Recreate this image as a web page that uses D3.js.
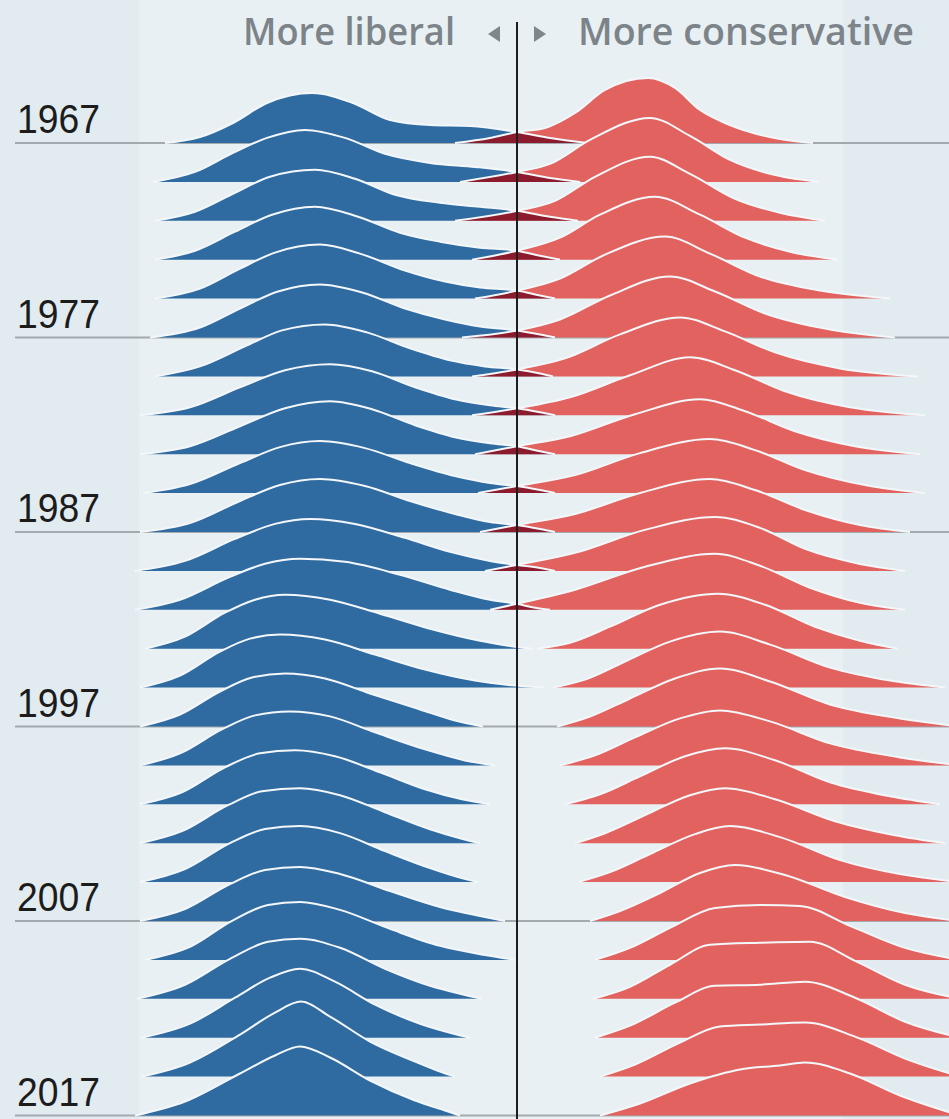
<!DOCTYPE html>
<html><head><meta charset="utf-8">
<script src="https://cdn.jsdelivr.net/npm/d3@7"></script>
<style>html,body{margin:0;padding:0;background:#e2ebf0;} svg{display:block}</style>
</head><body><svg id="c" width="949" height="1119"></svg>
<script>
const years = [1967,1969,1971,1973,1975,1977,1979,1981,1983,1985,1987,1989,1991,1993,1995,1997,1999,2001,2003,2005,2007,2009,2011,2013,2015,2017];
const labelYears = [1967,1977,1987,1997,2007,2017];
const leftLabel = "More liberal";
const rightLabel = "More conservative";

// Democrat density curves: [ideology score, density]
const demCurves = [
 [[-0.704,0],[-0.634,0.3],[-0.568,1.0],[-0.5,2.0],[-0.41,2.5],[-0.328,2.0],[-0.254,1.15],[-0.174,0.9],[-0.094,0.85],[0,0.55],[0.066,0.25],[0.14,0]],
 [[-0.728,0],[-0.644,0.5],[-0.568,1.45],[-0.5,2.2],[-0.424,2.6],[-0.344,2.2],[-0.264,1.4],[-0.174,0.95],[-0.084,0.75],[0,0.5],[0.066,0.2],[0.126,0]],
 [[-0.724,0],[-0.644,0.45],[-0.564,1.4],[-0.494,2.2],[-0.404,2.55],[-0.324,2.1],[-0.244,1.3],[-0.154,0.9],[-0.074,0.7],[0,0.5],[0.066,0.2],[0.122,0]],
 [[-0.724,0],[-0.644,0.45],[-0.564,1.4],[-0.49,2.25],[-0.404,2.65],[-0.318,2.15],[-0.234,1.35],[-0.154,0.9],[-0.074,0.6],[0,0.45],[0.046,0.2],[0.086,0]],
 [[-0.724,0],[-0.634,0.5],[-0.554,1.5],[-0.484,2.3],[-0.394,2.7],[-0.314,2.25],[-0.224,1.4],[-0.144,0.85],[-0.074,0.55],[0,0.4],[0.046,0.15],[0.076,0]],
 [[-0.734,0],[-0.634,0.5],[-0.554,1.45],[-0.478,2.3],[-0.394,2.65],[-0.31,2.25],[-0.224,1.45],[-0.144,0.9],[-0.074,0.55],[0,0.35],[0.046,0.15],[0.076,0]],
 [[-0.724,0],[-0.634,0.5],[-0.544,1.5],[-0.47,2.3],[-0.384,2.6],[-0.3,2.2],[-0.214,1.4],[-0.134,0.8],[-0.064,0.5],[0,0.35],[0.046,0.15],[0.072,0]],
 [[-0.754,0],[-0.654,0.4],[-0.554,1.4],[-0.464,2.25],[-0.374,2.55],[-0.29,2.2],[-0.204,1.4],[-0.124,0.8],[-0.054,0.5],[0,0.35],[0.046,0.15],[0.076,0]],
 [[-0.754,0],[-0.654,0.4],[-0.554,1.4],[-0.464,2.3],[-0.374,2.65],[-0.29,2.25],[-0.204,1.45],[-0.124,0.85],[-0.054,0.55],[0,0.4],[0.046,0.15],[0.076,0]],
 [[-0.748,0],[-0.654,0.45],[-0.554,1.5],[-0.474,2.3],[-0.394,2.6],[-0.304,2.25],[-0.214,1.5],[-0.124,0.85],[-0.054,0.5],[0,0.35],[0.046,0.15],[0.076,0]],
 [[-0.754,0],[-0.654,0.45],[-0.554,1.55],[-0.474,2.35],[-0.394,2.65],[-0.304,2.3],[-0.214,1.55],[-0.124,0.9],[-0.054,0.5],[0,0.35],[0.046,0.15],[0.076,0]],
 [[-0.764,0],[-0.664,0.5],[-0.564,1.6],[-0.484,2.35],[-0.414,2.6],[-0.324,2.35],[-0.224,1.65],[-0.134,0.95],[-0.054,0.5],[0,0.3],[0.046,0.15],[0.076,0]],
 [[-0.764,0],[-0.674,0.5],[-0.574,1.65],[-0.504,2.3],[-0.434,2.55],[-0.344,2.4],[-0.234,1.75],[-0.134,1.0],[-0.054,0.5],[0,0.3],[0.036,0.1],[0.066,0]],
 [[-0.744,0],[-0.664,0.6],[-0.584,1.8],[-0.524,2.45],[-0.464,2.7],[-0.374,2.45],[-0.274,1.75],[-0.174,1.0],[-0.074,0.4],[-0.004,0.1],[0.032,0]],
 [[-0.754,0],[-0.674,0.6],[-0.594,1.8],[-0.534,2.45],[-0.474,2.65],[-0.384,2.4],[-0.284,1.65],[-0.184,0.9],[-0.084,0.35],[-0.004,0.1],[0.056,0]],
 [[-0.754,0],[-0.674,0.6],[-0.594,1.75],[-0.53,2.45],[-0.464,2.65],[-0.384,2.4],[-0.294,1.65],[-0.194,0.85],[-0.124,0.3],[-0.068,0]],
 [[-0.754,0],[-0.674,0.6],[-0.59,1.8],[-0.524,2.5],[-0.454,2.7],[-0.374,2.45],[-0.284,1.65],[-0.184,0.8],[-0.104,0.25],[-0.044,0]],
 [[-0.754,0],[-0.67,0.6],[-0.584,1.85],[-0.514,2.55],[-0.444,2.7],[-0.364,2.4],[-0.274,1.6],[-0.184,0.75],[-0.11,0.25],[-0.054,0]],
 [[-0.754,0],[-0.67,0.6],[-0.578,1.9],[-0.51,2.6],[-0.434,2.75],[-0.354,2.4],[-0.264,1.55],[-0.174,0.7],[-0.114,0.25],[-0.074,0]],
 [[-0.754,0],[-0.664,0.65],[-0.574,1.95],[-0.504,2.65],[-0.434,2.8],[-0.354,2.45],[-0.264,1.55],[-0.174,0.7],[-0.118,0.25],[-0.078,0]],
 [[-0.754,0],[-0.664,0.6],[-0.574,1.85],[-0.504,2.55],[-0.434,2.7],[-0.354,2.35],[-0.254,1.5],[-0.154,0.7],[-0.074,0.25],[-0.024,0]],
 [[-0.744,0],[-0.654,0.65],[-0.57,1.95],[-0.498,2.75],[-0.434,2.9],[-0.354,2.5],[-0.254,1.55],[-0.154,0.7],[-0.064,0.25],[-0.004,0]],
 [[-0.76,0],[-0.664,0.7],[-0.574,2.0],[-0.498,2.85],[-0.434,3.0],[-0.354,2.55],[-0.264,1.5],[-0.174,0.65],[-0.114,0.25],[-0.07,0]],
 [[-0.75,0],[-0.654,0.7],[-0.564,2.0],[-0.494,3.0],[-0.434,3.45],[-0.364,2.8],[-0.284,1.65],[-0.194,0.7],[-0.134,0.25],[-0.094,0]],
 [[-0.75,0],[-0.654,0.7],[-0.554,2.1],[-0.484,3.2],[-0.432,3.75],[-0.374,3.0],[-0.294,1.75],[-0.204,0.75],[-0.154,0.25],[-0.124,0]],
 [[-0.764,0],[-0.664,0.7],[-0.554,2.1],[-0.484,3.0],[-0.434,3.45],[-0.374,2.9],[-0.294,1.75],[-0.204,0.75],[-0.144,0.25],[-0.114,0]]
];

// Republican density curves: [ideology score, density]
const repCurves = [
 [[-0.124,0],[-0.054,0.25],[0,0.55],[0.056,0.75],[0.116,1.5],[0.176,2.65],[0.262,3.25],[0.316,2.75],[0.366,1.65],[0.416,1.0],[0.466,0.55],[0.526,0.2],[0.592,0]],
 [[-0.114,0],[0,0.5],[0.066,0.9],[0.146,2.1],[0.266,3.2],[0.346,2.3],[0.426,1.1],[0.506,0.4],[0.602,0]],
 [[-0.124,0],[0,0.5],[0.076,1.0],[0.156,2.2],[0.266,3.2],[0.346,2.35],[0.436,1.1],[0.526,0.4],[0.616,0]],
 [[-0.09,0],[0,0.45],[0.086,1.1],[0.166,2.25],[0.276,3.15],[0.366,2.25],[0.456,1.1],[0.546,0.4],[0.642,0]],
 [[-0.084,0],[0,0.4],[0.086,1.0],[0.176,2.2],[0.296,3.1],[0.386,2.25],[0.486,1.1],[0.606,0.4],[0.746,0]],
 [[-0.11,0],[0,0.35],[0.086,0.9],[0.186,2.1],[0.306,3.05],[0.396,2.3],[0.496,1.2],[0.626,0.4],[0.756,0]],
 [[-0.09,0],[0,0.35],[0.096,0.9],[0.206,2.1],[0.326,2.95],[0.416,2.25],[0.516,1.2],[0.646,0.4],[0.802,0]],
 [[-0.09,0],[0,0.35],[0.106,0.9],[0.226,2.0],[0.346,2.9],[0.436,2.25],[0.536,1.2],[0.666,0.4],[0.816,0]],
 [[-0.084,0],[0,0.4],[0.106,0.9],[0.236,2.0],[0.366,2.75],[0.456,2.15],[0.556,1.15],[0.676,0.4],[0.806,0]],
 [[-0.078,0],[0,0.35],[0.116,0.9],[0.246,2.0],[0.386,2.7],[0.476,2.15],[0.576,1.15],[0.696,0.4],[0.816,0]],
 [[-0.074,0],[0,0.35],[0.116,0.9],[0.246,1.95],[0.386,2.65],[0.476,2.1],[0.576,1.1],[0.686,0.35],[0.786,0]],
 [[-0.064,0],[0,0.3],[0.116,0.9],[0.256,2.05],[0.396,2.7],[0.486,2.15],[0.576,1.1],[0.686,0.35],[0.776,0]],
 [[-0.054,0],[0,0.3],[0.116,1.0],[0.256,2.15],[0.396,2.8],[0.486,2.2],[0.586,1.1],[0.686,0.35],[0.776,0]],
 [[0.04,0],[0.106,0.3],[0.186,1.1],[0.286,2.2],[0.402,2.75],[0.496,2.2],[0.596,1.1],[0.686,0.4],[0.762,0]],
 [[0.072,0],[0.136,0.4],[0.216,1.3],[0.306,2.3],[0.406,2.8],[0.506,2.15],[0.626,1.0],[0.746,0.35],[0.856,0]],
 [[0.08,0],[0.146,0.5],[0.226,1.4],[0.316,2.4],[0.406,2.9],[0.506,2.25],[0.626,1.1],[0.766,0.4],[0.886,0]],
 [[0.086,0],[0.156,0.5],[0.236,1.4],[0.326,2.35],[0.406,2.75],[0.506,2.2],[0.626,1.1],[0.766,0.4],[0.886,0]],
 [[0.096,0],[0.166,0.5],[0.246,1.4],[0.336,2.4],[0.416,2.8],[0.516,2.2],[0.626,1.1],[0.746,0.4],[0.846,0]],
 [[0.116,0],[0.176,0.5],[0.256,1.4],[0.346,2.4],[0.416,2.75],[0.516,2.2],[0.636,1.1],[0.756,0.4],[0.856,0]],
 [[0.122,0],[0.186,0.5],[0.266,1.4],[0.356,2.4],[0.426,2.8],[0.526,2.25],[0.646,1.1],[0.766,0.4],[0.886,0]],
 [[0.146,0],[0.206,0.5],[0.286,1.4],[0.366,2.4],[0.436,2.8],[0.536,2.3],[0.656,1.2],[0.776,0.4],[0.886,0]],
 [[0.156,0],[0.226,0.6],[0.306,1.6],[0.396,2.6],[0.486,2.75],[0.566,2.7],[0.666,1.7],[0.776,0.6],[0.886,0]],
 [[0.152,0],[0.226,0.6],[0.306,1.7],[0.386,2.7],[0.486,2.8],[0.586,2.85],[0.676,1.9],[0.776,0.7],[0.886,0]],
 [[0.156,0],[0.226,0.6],[0.316,1.75],[0.396,2.6],[0.486,2.65],[0.576,2.8],[0.676,2.0],[0.776,0.8],[0.886,0]],
 [[0.166,0],[0.236,0.6],[0.326,1.7],[0.406,2.5],[0.486,2.6],[0.576,2.7],[0.676,2.0],[0.776,0.9],[0.886,0]],
 [[0.166,0],[0.246,0.6],[0.346,1.6],[0.446,2.3],[0.526,2.5],[0.576,2.65],[0.666,2.1],[0.766,1.0],[0.886,0]]
];

const W = 949, H = 1119;
const svg = d3.select("#c");
const x = d3.scaleLinear().domain([-1, 1]).range([17, 1017]);
const yRow = d3.scalePoint().domain(years).range([143, 1115.5]);
const hScale = d3.scaleLinear().domain([0, 1]).range([0, 20]);

const colDem = "#2f6ba1", colRep = "#e2625f", colBoth = "#8c1b2d", colGap = "#f3f7f9";

// background and subtle plot panel
svg.append("rect").attr("x", 0).attr("y", 0).attr("width", W).attr("height", H).attr("fill", "#e2ebf0");
svg.append("rect").attr("x", 139).attr("y", 0).attr("width", 843-139).attr("height", H).attr("fill", "#e9f0f3");

// gridlines for labelled years
svg.append("g").selectAll("line").data(labelYears).join("line")
  .attr("x1", 15).attr("x2", W)
  .attr("y1", d => yRow(d)).attr("y2", d => yRow(d))
  .attr("stroke", "#a2aab0").attr("stroke-width", 2);

const defs = svg.append("defs");
const rows = svg.append("g");

years.forEach((yr, i) => {
  const base = yRow(yr);
  const area = d3.area().x(d => x(d[0])).y0(base).y1(d => base - hScale(d[1])).curve(d3.curveMonotoneX);
  const line = d3.line().x(d => x(d[0])).y(d => base - hScale(d[1])).curve(d3.curveMonotoneX);
  defs.append("clipPath").attr("id", "dclip" + i).append("path").attr("d", area(demCurves[i]));
  const g = rows.append("g");
  g.append("path").attr("d", area(demCurves[i])).attr("fill", colDem);
  g.append("path").attr("d", area(repCurves[i])).attr("fill", colRep);
  g.append("path").attr("d", area(repCurves[i])).attr("fill", colBoth).attr("clip-path", `url(#dclip${i})`);
  g.append("path").attr("d", line(demCurves[i])).attr("fill", "none").attr("stroke", colGap).attr("stroke-width", 2);
  g.append("path").attr("d", line(repCurves[i])).attr("fill", "none").attr("stroke", colGap).attr("stroke-width", 2);
});

// centre line
svg.append("line").attr("x1", x(0)).attr("x2", x(0)).attr("y1", 22).attr("y2", H)
  .attr("stroke", "#1d1d1d").attr("stroke-width", 2);

// arrows
svg.append("path").attr("d", `M${x(0)-29},34 L${x(0)-17},26 L${x(0)-17},42 Z`).attr("fill", "#7f868c");
svg.append("path").attr("d", `M${x(0)+29},34 L${x(0)+17},26 L${x(0)+17},42 Z`).attr("fill", "#7f868c");

// header labels
const hdrFont = "'Open Sans', 'Liberation Sans', Arial, sans-serif";
svg.append("text").attr("x", 455).attr("y", 45).attr("text-anchor", "end")
  .attr("font-family", hdrFont).attr("font-size", 37).attr("font-weight", 600)
  .attr("fill", "#7c848a").attr("textLength", 212).attr("lengthAdjust", "spacingAndGlyphs")
  .text(leftLabel);
svg.append("text").attr("x", 578).attr("y", 45).attr("text-anchor", "start")
  .attr("font-family", hdrFont).attr("font-size", 37).attr("font-weight", 600)
  .attr("fill", "#7c848a").attr("textLength", 336).attr("lengthAdjust", "spacingAndGlyphs")
  .text(rightLabel);

// year labels
svg.append("g").selectAll("text").data(labelYears).join("text")
  .attr("x", 17).attr("y", d => yRow(d) - 10)
  .attr("font-family", "'Liberation Sans Narrow', 'Liberation Sans', Arial, sans-serif").attr("font-size", 41)
  .attr("fill", "#1c1c1c").attr("textLength", 83).attr("lengthAdjust", "spacingAndGlyphs")
  .text(d => d);
</script></body></html>
